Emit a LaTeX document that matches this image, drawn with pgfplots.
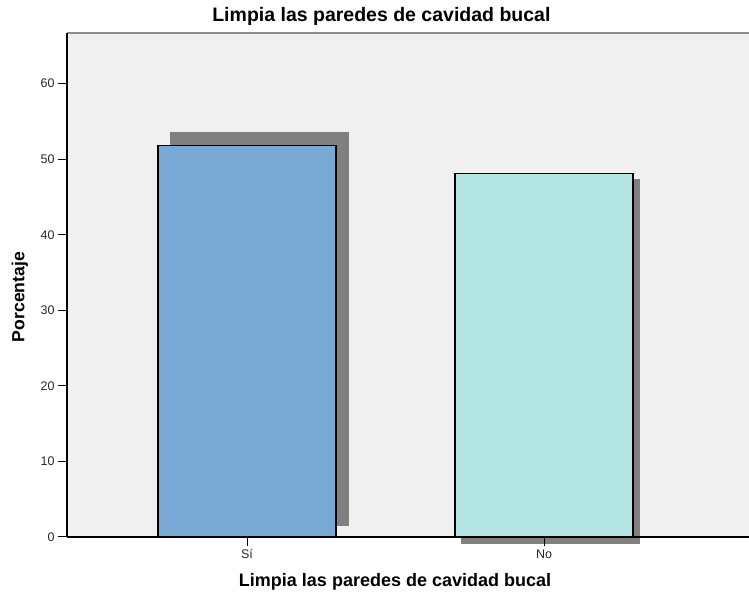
\documentclass[border=0pt]{standalone}
\usepackage{fontspec}
\setmainfont{Liberation Sans}
\usepackage{pgfplots}
\pgfplotsset{compat=1.18}

\definecolor{barsi}{RGB}{122,168,213}
\definecolor{barno}{RGB}{180,230,230}
\definecolor{shade}{RGB}{128,128,128}
\definecolor{panel}{RGB}{240,240,240}
\definecolor{frame}{RGB}{140,140,140}

\begin{document}
\begin{tikzpicture}
\begin{axis}[
  name=ax,
  scale only axis,
  width=682pt, height=504pt,
  xmin=0.394, xmax=2.69,
  ymin=0, ymax=66.7,
  clip=false,
  axis on top,
  axis background/.style={fill=panel},
  axis x line*=bottom,
  axis y line*=left,
  axis line style={-, black, line width=1.2pt},
  xtick={1,2},
  xticklabels={Sí,No},
  ytick={0,10,...,60},
  tick align=outside,
  major tick length=9pt,
  tick style={black, line width=1pt},
  tick label style={font=\fontsize{12.5}{14}\selectfont, text=black!85},
  /pgf/number format/assume math mode=true,
  title={Limpia las paredes de cavidad bucal},
  title style={at={(axis description cs:0.461,1.032)}, anchor=center,
    yshift=-6pt, font=\bfseries\fontsize{19.5}{22}\selectfont},
  xlabel={Limpia las paredes de cavidad bucal},
  xlabel style={at={(axis description cs:0.481,-0.089)}, anchor=center,
    font=\bfseries\fontsize{18}{20}\selectfont},
  ylabel={Porcentaje},
  ylabel style={at={(axis description cs:-0.069,0.476)}, anchor=center,
    font=\bfseries\fontsize{17.6}{20}\selectfont},
]
% drop shadows behind the bars
\addplot[fill=shade, draw=none] coordinates
  {(0.741,1.5) (1.343,1.5) (1.343,53.6) (0.741,53.6)} -- cycle;
\addplot[fill=shade, draw=none] coordinates
  {(1.720,-0.9) (2.323,-0.9) (2.323,47.4) (1.720,47.4)} -- cycle;
% percentage bars
\addplot[ybar, bar width=178pt, bar shift=0pt, fill=barsi, draw=black,
  line width=1.2pt] coordinates {(1,51.85)};
\addplot[ybar, bar width=178pt, bar shift=0pt, fill=barno, draw=black,
  line width=1.2pt] coordinates {(2,48.15)};
% upper frame line of the plot panel
\draw[frame, line width=2pt] (rel axis cs:0,1) -- (rel axis cs:1,1);
\end{axis}
\pgfresetboundingbox
\path[use as bounding box] ([shift={(-67pt,-59pt)}]ax.south west)
  rectangle ([shift={(0pt,33pt)}]ax.north east);
\end{tikzpicture}
\end{document}
